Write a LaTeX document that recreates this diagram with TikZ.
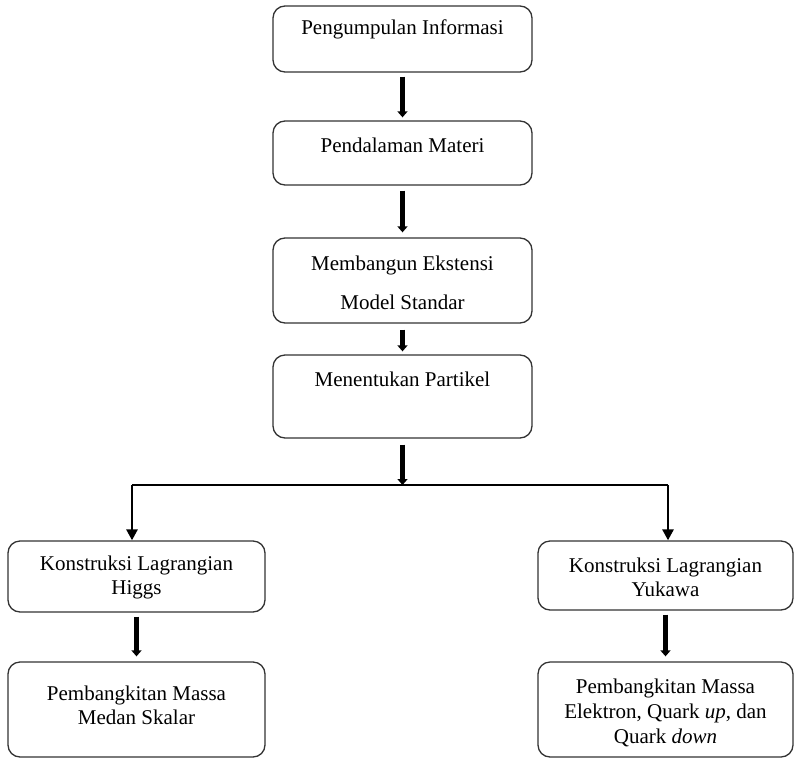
\documentclass[tikz,border=0pt]{standalone}
\usepackage{fontspec}
\setmainfont{Liberation Serif}
\usetikzlibrary{arrows.meta,calc}
\begin{document}
\begin{tikzpicture}[x=1pt,y=-1pt,
  box/.style={draw=black!80,line width=1.3pt,rounded corners=12pt,inner sep=0pt},
  txt/.style={font=\fontsize{21}{24}\selectfont,align=center,inner sep=0pt,anchor=center},
  bigarrow/.style={line width=4.5pt,-{Triangle[width=10pt,length=6pt]}},
  branch/.style={line width=2.7pt},
  brancharrow/.style={line width=2.7pt,-{Triangle[width=11pt,length=11pt]}}]
\useasboundingbox (0,0) rectangle (794,760);
% boxes
\node[box,minimum width=259pt,minimum height=66pt] (b1) at (402.5,39) {};
\node[box,minimum width=259pt,minimum height=64pt] (b2) at (402.5,153) {};
\node[box,minimum width=259pt,minimum height=85pt] (b3) at (402.5,280.5) {};
\node[box,minimum width=259pt,minimum height=83pt] (b4) at (402.5,396.5) {};
\node[box,minimum width=257pt,minimum height=71pt] (l1) at (136.5,576.5) {};
\node[box,minimum width=255pt,minimum height=69pt] (r1) at (665.5,575.5) {};
\node[box,minimum width=257pt,minimum height=95pt] (l2) at (136.5,709.5) {};
\node[box,minimum width=255pt,minimum height=95pt] (r2) at (665.5,709.5) {};
% texts
\node[txt] (t1) at (402.5,29) {Pengumpulan Informasi};
\node[txt] (t2) at (402.5,145) {Pendalaman Materi};
\node[txt] (t3a) at (402.5,265) {Membangun Ekstensi};
\node[txt] (t3b) at (402.5,302) {Model Standar};
\node[txt] (t4) at (402.5,379) {Menentukan Partikel};
\node[txt] (tl1) at (136.5,577) {Konstruksi Lagrangian\\Higgs};
\node[txt] (tr1) at (665.5,577) {Konstruksi Lagrangian\\Yukawa};
\node[txt] (tl2) at (136.5,705) {Pembangkitan Massa\\Medan Skalar};
\node[txt,font=\fontsize{21}{25}\selectfont] (tr2) at (665.5,713) {Pembangkitan Massa\\Elektron, Quark \textit{up}, dan\\Quark \textit{down}};
% arrows
\draw[bigarrow,shorten <=4pt,shorten >=3pt] (b1) -- (b2);
\draw[bigarrow,shorten <=5pt,shorten >=5pt] (b2) -- (b3);
\draw[bigarrow,shorten <=6pt,shorten >=3pt] (b3) -- (b4);
\coordinate (j) at (402.5,485);
\draw[bigarrow,shorten <=6pt,shorten >=0pt] (b4) -- (j);
\coordinate (jl) at (132,485);
\coordinate (jr) at (668,485);
\draw[branch] (jl) -- (jr);
\draw[brancharrow] (jl) -- (jl |- l1.north);
\draw[brancharrow] (jr) -- (jr |- r1.north);
\draw[bigarrow,shorten <=4pt,shorten >=5pt] (l1) -- (l2);
\draw[bigarrow,shorten <=4pt,shorten >=5pt] (r1) -- (r2);
\end{tikzpicture}
\end{document}
